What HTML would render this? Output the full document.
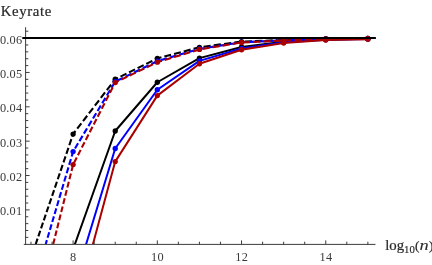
<!DOCTYPE html>
<html><head><meta charset="utf-8"><style>
html,body{margin:0;padding:0;background:#fff;}
body{width:432px;height:265px;overflow:hidden;}
svg{display:block;}
text{font-family:"Liberation Serif",serif;fill:#3a3a3a;}
.t{font-size:12.3px;letter-spacing:0.25px;}
.l{font-size:14.8px;fill:#2a2a2a;stroke:#2a2a2a;stroke-width:0.22px;}
</style></head><body>
<svg width="432" height="265" viewBox="0 0 432 265">
<rect width="432" height="265" fill="#fff"/>
<defs><clipPath id="c"><rect x="25.7" y="20" width="351" height="224"/></clipPath></defs>
<g clip-path="url(#c)">
<polyline points="73.10,249.30 115.21,131.00 157.32,82.25 199.43,58.10 241.54,47.00 283.65,41.70 325.76,39.50 367.87,38.80" fill="none" stroke="#000000" stroke-width="2" stroke-linejoin="round"/>
<circle cx="73.10" cy="249.30" r="2.65" fill="#000000"/>
<circle cx="115.21" cy="131.00" r="2.65" fill="#000000"/>
<circle cx="157.32" cy="82.25" r="2.65" fill="#000000"/>
<circle cx="199.43" cy="58.10" r="2.65" fill="#000000"/>
<circle cx="241.54" cy="47.00" r="2.65" fill="#000000"/>
<circle cx="283.65" cy="41.70" r="2.65" fill="#000000"/>
<circle cx="325.76" cy="39.50" r="2.65" fill="#000000"/>
<circle cx="367.87" cy="38.80" r="2.65" fill="#000000"/>
<path d="M35.75 244.00 L37.55 238.70M38.36 236.31 L40.26 230.72M41.07 228.34 L42.98 222.71M43.80 220.31 L45.72 214.65M46.56 212.20 L48.49 206.50M49.32 204.06 L51.28 198.30M52.12 195.84 L54.09 190.04M54.93 187.56 L56.91 181.73M57.76 179.23 L59.76 173.36M60.62 170.82 L62.63 164.91M63.49 162.38 L65.52 156.41M66.39 153.85 L68.43 147.85M69.31 145.25 L71.36 139.21M72.24 136.62 L73.10 134.10 L75.49 130.99M77.23 128.72 L81.31 123.40M83.06 121.12 L87.17 115.75M88.94 113.45 L93.09 108.04M94.87 105.72 L99.04 100.28M100.84 97.93 L105.04 92.45M106.86 90.09 L111.10 84.56M112.92 82.18 L115.21 79.20 L117.95 77.84M120.50 76.59 L126.47 73.64M129.04 72.37 L135.03 69.41M137.61 68.14 L143.65 65.15M146.25 63.87 L152.35 60.85M154.97 59.56 L157.32 58.40 L161.46 57.31M164.34 56.55 L171.11 54.76M174.01 54.00 L180.82 52.21M183.74 51.44 L190.61 49.63M193.55 48.85 L199.43 47.30 L200.48 47.16M203.53 46.74 L210.67 45.78M213.74 45.36 L220.92 44.39M224.01 43.97 L231.23 43.00M234.32 42.58 L241.52 41.60M244.64 41.48 L251.91 41.21M255.03 41.09 L262.31 40.81M265.42 40.69 L272.70 40.42M275.82 40.30 L283.09 40.02M286.21 39.92 L293.49 39.70M296.61 39.60 L303.89 39.38M307.00 39.28 L314.28 39.05M317.40 38.96 L324.68 38.73M327.80 38.68 L335.08 38.61M338.20 38.58 L345.48 38.51M348.61 38.48 L355.87 38.41M358.99 38.38 L366.27 38.32" fill="none" stroke="#000000" stroke-width="2.1" stroke-linejoin="round"/>
<circle cx="30.99" cy="258.00" r="2.65" fill="#000000"/>
<circle cx="73.10" cy="134.10" r="2.65" fill="#000000"/>
<circle cx="115.21" cy="79.20" r="2.65" fill="#000000"/>
<circle cx="157.32" cy="58.40" r="2.65" fill="#000000"/>
<circle cx="199.43" cy="47.30" r="2.65" fill="#000000"/>
<circle cx="241.54" cy="41.60" r="2.65" fill="#000000"/>
<circle cx="283.65" cy="40.00" r="2.65" fill="#000000"/>
<circle cx="325.76" cy="38.70" r="2.65" fill="#000000"/>
<circle cx="367.87" cy="38.30" r="2.65" fill="#000000"/>
<polyline points="73.10,287.00 115.21,148.50 157.32,89.75 199.43,60.90 241.54,48.50 283.65,42.30 325.76,39.80 367.87,39.00" fill="none" stroke="#0000ff" stroke-width="2" stroke-linejoin="round"/>
<circle cx="73.10" cy="287.00" r="2.65" fill="#0000ff"/>
<circle cx="115.21" cy="148.50" r="2.65" fill="#0000ff"/>
<circle cx="157.32" cy="89.75" r="2.65" fill="#0000ff"/>
<circle cx="199.43" cy="60.90" r="2.65" fill="#0000ff"/>
<circle cx="241.54" cy="48.50" r="2.65" fill="#0000ff"/>
<circle cx="283.65" cy="42.30" r="2.65" fill="#0000ff"/>
<circle cx="325.76" cy="39.80" r="2.65" fill="#0000ff"/>
<circle cx="367.87" cy="39.00" r="2.65" fill="#0000ff"/>
<path d="M45.74 244.00 L46.90 240.09M47.59 237.75 L49.22 232.24M49.92 229.88 L51.56 224.34M52.26 221.96 L53.92 216.38M54.63 213.99 L56.29 208.37M57.01 205.95 L58.68 200.29M59.40 197.86 L61.09 192.16M61.82 189.71 L63.52 183.95M64.25 181.50 L65.96 175.71M66.70 173.21 L68.43 167.38M69.16 164.89 L70.90 159.02M71.65 156.49 L73.10 151.60 L73.64 150.71M74.97 148.50 L78.08 143.32M79.42 141.09 L82.57 135.87M83.91 133.64 L87.07 128.38M88.43 126.11 L91.61 120.83M92.98 118.55 L96.19 113.22M97.57 110.93 L100.80 105.56M102.19 103.25 L105.44 97.85M106.83 95.53 L110.11 90.08M111.52 87.74 L114.82 82.25M117.05 80.71 L122.99 77.83M125.54 76.59 L131.54 73.69M134.11 72.44 L140.14 69.52M142.74 68.26 L148.82 65.32M151.43 64.05 L157.32 61.20 L157.57 61.13M160.37 60.31 L166.96 58.38M169.78 57.56 L176.41 55.62M179.27 54.79 L185.93 52.84M188.81 52.00 L195.53 50.04M198.41 49.20 L199.43 48.90 L205.36 47.96M208.36 47.49 L215.38 46.38M218.40 45.90 L225.47 44.79M228.52 44.31 L235.63 43.18M238.69 42.70 L241.54 42.25 L245.92 42.05M249.03 41.91 L256.31 41.58M259.43 41.44 L266.70 41.11M269.82 40.97 L277.09 40.65M280.21 40.51 L283.65 40.35 L287.49 40.21M290.61 40.10 L297.89 39.84M300.99 39.73 L308.26 39.47M311.38 39.36 L318.66 39.10M321.78 38.99 L325.76 38.85 L329.06 38.82M332.18 38.79 L339.46 38.72M342.58 38.69 L349.87 38.62M352.99 38.59 L360.27 38.52M363.37 38.49 L367.87 38.45" fill="none" stroke="#0000ff" stroke-width="2.1" stroke-linejoin="round"/>
<circle cx="30.99" cy="293.80" r="2.65" fill="#0000ff"/>
<circle cx="73.10" cy="151.60" r="2.65" fill="#0000ff"/>
<circle cx="115.21" cy="81.60" r="2.65" fill="#0000ff"/>
<circle cx="157.32" cy="61.20" r="2.65" fill="#0000ff"/>
<circle cx="199.43" cy="48.90" r="2.65" fill="#0000ff"/>
<circle cx="241.54" cy="42.25" r="2.65" fill="#0000ff"/>
<circle cx="283.65" cy="40.35" r="2.65" fill="#0000ff"/>
<circle cx="325.76" cy="38.85" r="2.65" fill="#0000ff"/>
<circle cx="367.87" cy="38.45" r="2.65" fill="#0000ff"/>
<polyline points="73.10,317.70 115.21,161.60 157.32,95.60 199.43,63.75 241.54,49.75 283.65,43.00 325.76,40.00 367.87,39.20" fill="none" stroke="#aa0000" stroke-width="2" stroke-linejoin="round"/>
<circle cx="73.10" cy="317.70" r="2.65" fill="#aa0000"/>
<circle cx="115.21" cy="161.60" r="2.65" fill="#aa0000"/>
<circle cx="157.32" cy="95.60" r="2.65" fill="#aa0000"/>
<circle cx="199.43" cy="63.75" r="2.65" fill="#aa0000"/>
<circle cx="241.54" cy="49.75" r="2.65" fill="#aa0000"/>
<circle cx="283.65" cy="43.00" r="2.65" fill="#aa0000"/>
<circle cx="325.76" cy="40.00" r="2.65" fill="#aa0000"/>
<circle cx="367.87" cy="39.20" r="2.65" fill="#aa0000"/>
<path d="M53.25 244.00 L54.63 238.47M55.22 236.10 L56.61 230.55M57.20 228.17 L58.61 222.56M59.21 220.15 L60.62 214.53M61.22 212.10 L62.64 206.42M63.25 203.99 L64.68 198.27M65.30 195.80 L66.74 190.04M67.36 187.55 L68.81 181.75M69.43 179.27 L70.90 173.41M71.52 170.91 L73.00 165.01M74.07 162.71 L76.77 157.45M77.94 155.17 L80.66 149.87M81.83 147.59 L84.58 142.23M85.76 139.94 L88.52 134.55M89.71 132.23 L92.50 126.80M93.69 124.47 L96.50 119.01M97.70 116.66 L100.52 111.16M101.74 108.80 L104.59 103.24M105.81 100.86 L108.68 95.27M109.90 92.89 L112.79 87.27M114.03 84.85 L115.21 82.55 L118.70 80.86M121.24 79.63 L127.17 76.77M129.71 75.54 L135.69 72.65M138.26 71.41 L144.26 68.51M146.86 67.26 L152.91 64.33M155.52 63.07 L157.32 62.20 L161.89 60.81M164.69 59.96 L171.22 57.98M174.03 57.12 L180.60 55.13M183.43 54.26 L190.07 52.25M192.90 51.38 L199.43 49.40 L199.59 49.37M202.55 48.89 L209.50 47.75M212.48 47.26 L219.47 46.12M222.47 45.62 L229.52 44.47M232.54 43.98 L239.63 42.81M242.70 42.44 L249.91 42.10M253.03 41.95 L260.31 41.61M263.42 41.46 L270.70 41.12M273.80 40.97 L281.07 40.62M284.19 40.48 L291.46 40.20M294.58 40.08 L301.86 39.81M304.97 39.69 L312.25 39.41M315.37 39.29 L322.64 39.02M325.76 38.90 L325.76 38.90 L333.04 38.83M336.16 38.80 L343.44 38.73M346.56 38.70 L353.85 38.63M356.97 38.60 L364.25 38.53M367.37 38.50 L367.87 38.50" fill="none" stroke="#aa0000" stroke-width="2.1" stroke-linejoin="round"/>
<circle cx="30.99" cy="333.00" r="2.65" fill="#aa0000"/>
<circle cx="73.10" cy="164.60" r="2.65" fill="#aa0000"/>
<circle cx="115.21" cy="82.55" r="2.65" fill="#aa0000"/>
<circle cx="157.32" cy="62.20" r="2.65" fill="#aa0000"/>
<circle cx="199.43" cy="49.40" r="2.65" fill="#aa0000"/>
<circle cx="241.54" cy="42.50" r="2.65" fill="#aa0000"/>
<circle cx="283.65" cy="40.50" r="2.65" fill="#aa0000"/>
<circle cx="325.76" cy="38.90" r="2.65" fill="#aa0000"/>
<circle cx="367.87" cy="38.50" r="2.65" fill="#aa0000"/>
</g>
<g stroke="#333333" stroke-width="0.95" fill="none">
<line x1="25.6" y1="27.2" x2="25.6" y2="244.8"/>
<line x1="23.8" y1="244.4" x2="375.5" y2="244.4"/>
<line x1="25.6" y1="237.38" x2="28.30" y2="237.38"/>
<line x1="25.6" y1="230.51" x2="28.30" y2="230.51"/>
<line x1="25.6" y1="223.63" x2="28.30" y2="223.63"/>
<line x1="25.6" y1="216.76" x2="28.30" y2="216.76"/>
<line x1="25.6" y1="209.89" x2="29.60" y2="209.89"/>
<line x1="25.6" y1="203.02" x2="28.30" y2="203.02"/>
<line x1="25.6" y1="196.15" x2="28.30" y2="196.15"/>
<line x1="25.6" y1="189.27" x2="28.30" y2="189.27"/>
<line x1="25.6" y1="182.40" x2="28.30" y2="182.40"/>
<line x1="25.6" y1="175.53" x2="29.60" y2="175.53"/>
<line x1="25.6" y1="168.66" x2="28.30" y2="168.66"/>
<line x1="25.6" y1="161.79" x2="28.30" y2="161.79"/>
<line x1="25.6" y1="154.91" x2="28.30" y2="154.91"/>
<line x1="25.6" y1="148.04" x2="28.30" y2="148.04"/>
<line x1="25.6" y1="141.17" x2="29.60" y2="141.17"/>
<line x1="25.6" y1="134.30" x2="28.30" y2="134.30"/>
<line x1="25.6" y1="127.43" x2="28.30" y2="127.43"/>
<line x1="25.6" y1="120.55" x2="28.30" y2="120.55"/>
<line x1="25.6" y1="113.68" x2="28.30" y2="113.68"/>
<line x1="25.6" y1="106.81" x2="29.60" y2="106.81"/>
<line x1="25.6" y1="99.94" x2="28.30" y2="99.94"/>
<line x1="25.6" y1="93.07" x2="28.30" y2="93.07"/>
<line x1="25.6" y1="86.19" x2="28.30" y2="86.19"/>
<line x1="25.6" y1="79.32" x2="28.30" y2="79.32"/>
<line x1="25.6" y1="72.45" x2="29.60" y2="72.45"/>
<line x1="25.6" y1="65.58" x2="28.30" y2="65.58"/>
<line x1="25.6" y1="58.71" x2="28.30" y2="58.71"/>
<line x1="25.6" y1="51.83" x2="28.30" y2="51.83"/>
<line x1="25.6" y1="44.96" x2="28.30" y2="44.96"/>
<line x1="25.6" y1="38.09" x2="29.60" y2="38.09"/>
<line x1="25.6" y1="31.22" x2="28.30" y2="31.22"/>
<line x1="30.99" y1="244.4" x2="30.99" y2="241.70"/>
<line x1="52.04" y1="244.4" x2="52.04" y2="241.70"/>
<line x1="73.10" y1="244.4" x2="73.10" y2="240.40"/>
<line x1="94.16" y1="244.4" x2="94.16" y2="241.70"/>
<line x1="115.21" y1="244.4" x2="115.21" y2="241.70"/>
<line x1="136.26" y1="244.4" x2="136.26" y2="241.70"/>
<line x1="157.32" y1="244.4" x2="157.32" y2="240.40"/>
<line x1="178.38" y1="244.4" x2="178.38" y2="241.70"/>
<line x1="199.43" y1="244.4" x2="199.43" y2="241.70"/>
<line x1="220.48" y1="244.4" x2="220.48" y2="241.70"/>
<line x1="241.54" y1="244.4" x2="241.54" y2="240.40"/>
<line x1="262.60" y1="244.4" x2="262.60" y2="241.70"/>
<line x1="283.65" y1="244.4" x2="283.65" y2="241.70"/>
<line x1="304.70" y1="244.4" x2="304.70" y2="241.70"/>
<line x1="325.76" y1="244.4" x2="325.76" y2="240.40"/>
<line x1="346.81" y1="244.4" x2="346.81" y2="241.70"/>
<line x1="367.87" y1="244.4" x2="367.87" y2="241.70"/>
</g>
<line x1="22.3" y1="38.0" x2="375.9" y2="38.0" stroke="#000" stroke-width="2.1"/>
<g style="filter:grayscale(1)">
<text x="22.4" y="215.44" text-anchor="end" class="t">0.01</text>
<text x="22.4" y="181.08" text-anchor="end" class="t">0.02</text>
<text x="22.4" y="146.72" text-anchor="end" class="t">0.03</text>
<text x="22.4" y="112.36" text-anchor="end" class="t">0.04</text>
<text x="22.4" y="78.00" text-anchor="end" class="t">0.05</text>
<text x="22.4" y="43.64" text-anchor="end" class="t">0.06</text>
<text x="73.30" y="261.3" text-anchor="middle" class="t">8</text>
<text x="157.52" y="261.3" text-anchor="middle" class="t">10</text>
<text x="241.74" y="261.3" text-anchor="middle" class="t">12</text>
<text x="325.96" y="261.3" text-anchor="middle" class="t">14</text>
<text x="0.8" y="15.6" class="l" letter-spacing="0.6">Keyrate</text>
<text x="385.2" y="250" class="l">log</text>
<text x="404" y="253" style="font-size:10.8px;fill:#2a2a2a;stroke:#2a2a2a;stroke-width:0.15px">10</text>
<text x="415.1" y="249.6" class="l" style="font-size:13.2px">(</text>
<text transform="translate(419.5,250.1) scale(1.27,1)" class="l" style="font-size:14.5px;stroke-width:0.08px" font-style="italic">n</text>
<text x="428.9" y="249.6" class="l" style="font-size:13.2px">)</text>
</g>
</svg>
</body></html>
